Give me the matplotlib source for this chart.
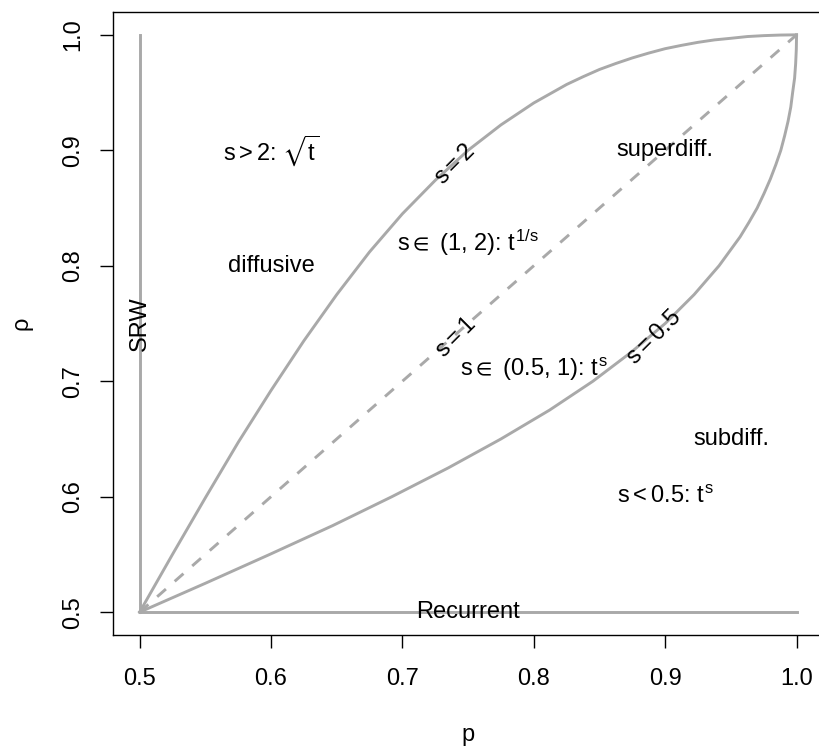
import matplotlib
matplotlib.use('Agg')
from matplotlib import pyplot as plt

plt.rcParams['font.family'] = ['Liberation Sans', 'DejaVu Sans']
plt.rcParams['mathtext.fontset'] = 'custom'
plt.rcParams['mathtext.rm'] = 'Liberation Sans'
plt.rcParams['mathtext.it'] = 'Liberation Sans'
plt.rcParams['mathtext.sf'] = 'Liberation Sans'
plt.rcParams['mathtext.fallback'] = 'stixsans'

# boundary s = 2
p_s2 = [0.5, 0.525, 0.55, 0.575, 0.6, 0.625, 0.65, 0.675, 0.7, 0.725, 0.75,
        0.775, 0.8, 0.825, 0.8375, 0.85, 0.8625, 0.875, 0.8875, 0.9, 0.9125,
        0.925, 0.9375, 0.95, 0.9625, 0.975, 0.9875, 1.0]
rho_s2 = [0.5, 0.550, 0.599, 0.647, 0.692, 0.735, 0.775, 0.812, 0.845, 0.874, 0.900,
          0.922, 0.941, 0.957, 0.9637, 0.970, 0.9752, 0.980, 0.9842, 0.988, 0.9909,
          0.9935, 0.9956, 0.997, 0.9985, 0.9993, 0.9998, 1.0]

# boundary s = 0.5
p_s05 = [0.5, 0.550, 0.599, 0.647, 0.692, 0.735, 0.775, 0.812, 0.845, 0.874, 0.900,
         0.922, 0.941, 0.957, 0.9637, 0.970, 0.9752, 0.980, 0.9842, 0.988, 0.9909,
         0.9935, 0.9956, 0.997, 0.9985, 0.9993, 0.9998, 1.0]
rho_s05 = [0.5, 0.525, 0.55, 0.575, 0.6, 0.625, 0.65, 0.675, 0.7, 0.725, 0.75,
           0.775, 0.8, 0.825, 0.8375, 0.85, 0.8625, 0.875, 0.8875, 0.9, 0.9125,
           0.925, 0.9375, 0.95, 0.9625, 0.975, 0.9875, 1.0]

# s = 1 diagonal, SRW and recurrent edges
p_s1 = [0.5, 1.0]
rho_s1 = [0.5, 1.0]
p_srw = [0.5, 0.5]
rho_srw = [0.5, 1.0]
p_rec = [0.5, 1.0]
rho_rec = [0.5, 0.5]

ticks = [0.5, 0.6, 0.7, 0.8, 0.9, 1.0]

# annotations: x, y, text, rotation
labels = [
    (0.60, 0.90, r'$s > 2$: $\sqrt{t}$', 0),
    (0.60, 0.80, 'diffusive', 0),
    (0.50, 0.75, 'SRW', 90),
    (0.75, 0.50, 'Recurrent', 0),
    (0.90, 0.90, 'superdiff.', 0),
    (0.95, 0.65, 'subdiff.', 0),
    (0.90, 0.60, r'$s < 0.5$: $t^s$', 0),
    (0.75, 0.82, r'$s \in$ (1, 2): $t^{1/s}$', 0),
    (0.80, 0.71, r'$s \in$ (0.5, 1): $t^s$', 0),
    (0.74, 0.888, r'$s = 2$', 45),
    (0.741, 0.738, r'$s = 1$', 45),
    (0.8915, 0.738, r'$s = 0.5$', 45),
]

col = '#a9a9a9'
fs = 17

fig = plt.figure(figsize=(8.19, 7.47), dpi=100)
ax = fig.add_axes([0.1384, 0.1496, 0.8663, 0.8347])

ax.plot(p_s2, rho_s2, color=col, lw=2.1)
ax.plot(p_s05, rho_s05, color=col, lw=2.1)
ax.plot(p_s1, rho_s1, color=col, lw=2.1, linestyle=(0, (4, 4)))
ax.plot(p_srw, rho_srw, color=col, lw=2.1)
ax.plot(p_rec, rho_rec, color=col, lw=2.1)

for x, y, s, r in labels:
    ax.text(x, y, s, fontsize=fs, rotation=r, rotation_mode='anchor',
            ha='center', va='center')

ax.set_xlim(0.48, 1.02)
ax.set_ylim(0.48, 1.02)
ax.set_xticks(ticks)
ax.set_yticks(ticks)
ax.set_xticklabels(['%.1f' % t for t in ticks])
ax.set_yticklabels(['%.1f' % t for t in ticks], rotation=90, va='center')
ax.tick_params(length=9.4, width=1.0, labelsize=fs)
ax.tick_params(axis='x', pad=14)
ax.tick_params(axis='y', pad=11.5)
for sp in ax.spines.values():
    sp.set_linewidth(1.0)
ax.spines['right'].set_visible(False)

fig.text(0.5716, 0.008, 'p', fontsize=fs, ha='center', va='baseline')
fig.text(0.026, 0.567, 'ρ', fontsize=fs, rotation=90, ha='center', va='center')

fig.savefig('out.png', dpi=100)
